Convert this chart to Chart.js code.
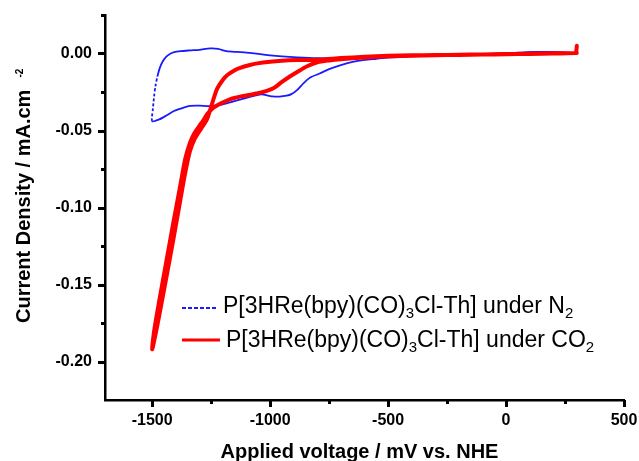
<!DOCTYPE html>
<html><head><meta charset="utf-8">
<script src="https://cdn.jsdelivr.net/npm/chart.js@4.4.0/dist/chart.umd.min.js"></script>
<style>html,body{margin:0;padding:0;background:#fff;}canvas{display:block;}</style>
</head><body>
<canvas id="c" width="639" height="461"></canvas>
<script>
// ---- tick values / labels ----
const xTickValues = [-1500, -1000, -500, 0, 500];
const xMinorValues = [-1250, -750, -250, 250];
const yTickValues = [0, -0.05, -0.10, -0.15, -0.20];
const yMinorValues = [0.025, -0.025, -0.075, -0.125, -0.175];
const xTitle = 'Applied voltage / mV vs. NHE';
const yTitle = 'Current Density / mA.cm';
const yTitleSup = '-2';
const seriesNames = ['P[3HRe(bpy)(CO)₃Cl-Th] under N₂', 'P[3HRe(bpy)(CO)₃Cl-Th] under CO₂'];

// ---- series: N2 (mV, mA/cm2) ----
const n2Voltage = [300,250,200,150,100,50,0,-100,-200,-300,-400,-500,-550,-600,-650,-700,-750,-790,-830,-860,-886,-910,-930,-960,-990,-1010,-1035,-1060,-1100,-1140,-1180,-1220,-1260,-1300,-1340,-1380,-1410,-1440,-1470,-1500,
  -1497,-1492,-1486,-1478,-1468,-1455,-1440,-1425,-1410,-1380,-1340,-1300,-1254,-1220,-1185,-1140,-1100,-1050,-1000,-950,-886,-800,-700,-600,-500,-400,-300,-200,-100,0,100,200,300];
const n2Current = [0.0003,0.0006,0.0009,0.0010,0.0009,0.0005,0.0000,-0.0005,-0.0009,-0.0013,-0.0018,-0.0026,-0.0034,-0.0042,-0.0055,-0.0076,-0.0102,-0.0130,-0.0156,-0.0195,-0.0238,-0.0264,-0.0274,-0.0280,-0.0279,-0.0273,-0.0266,-0.0272,-0.0288,-0.0305,-0.0322,-0.0336,-0.0342,-0.0338,-0.0340,-0.0358,-0.0375,-0.0403,-0.0428,-0.0440,
  -0.036,-0.028,-0.021,-0.015,-0.0095,-0.0050,-0.0020,-0.0003,0.0007,0.0015,0.0020,0.0024,0.0033,0.0030,0.0015,0.0010,0.0006,-0.0002,-0.0012,-0.0019,-0.0025,-0.0030,-0.0031,-0.0028,-0.0023,-0.0017,-0.0012,-0.0008,-0.0004,0.0001,0.0007,0.0008,0.0003];

// ---- series: CO2 (forward scan then return scan) ----
const co2Voltage = [300,297,290,200,100,0,-100,-200,-300,-400,-500,-600,-700,-750,-800,-843,-880,-915,-950,-980,-1000,-1030,-1060,-1090,-1127,-1160,-1190,-1220,-1245,-1265,-1284,-1300,-1320,-1340,-1360,-1380,-1410,-1440,-1470,-1490,-1500,
  -1490,-1470,-1440,-1410,-1380,-1360,-1340,-1320,-1300,-1285,-1267,-1245,-1225,-1200,-1180,-1150,-1127,-1090,-1055,-1000,-950,-886,-800,-700,-600,-500,-400,-300,-200,-100,0,100,200,300];
const co2Current = [0.0050,0.0010,0.0003,0.0000,-0.0003,-0.0005,-0.0007,-0.0009,-0.0011,-0.0014,-0.0018,-0.0026,-0.0037,-0.0045,-0.0057,-0.0083,-0.0115,-0.0148,-0.0185,-0.0220,-0.0235,-0.0250,-0.0260,-0.0270,-0.0280,-0.0292,-0.0310,-0.0333,-0.0358,-0.0390,-0.0435,-0.0470,-0.0515,-0.0580,-0.0685,-0.0850,-0.1095,-0.1350,-0.1605,-0.1785,-0.1920,
  -0.1855,-0.1700,-0.1455,-0.1205,-0.0945,-0.0775,-0.0635,-0.0555,-0.0505,-0.0470,-0.0425,-0.0320,-0.0230,-0.0170,-0.0138,-0.0108,-0.0093,-0.0076,-0.0064,-0.0053,-0.0047,-0.0043,-0.0040,-0.0030,-0.0021,-0.0015,-0.0012,-0.0010,-0.0008,-0.0006,-0.0004,-0.0001,0.0001,0.0003];

const FONT = '"Liberation Sans", Arial, Helvetica, sans-serif';
const toPts = (xs, ys) => xs.map((v, i) => ({x: v, y: ys[i]}));

function drawRich(ctx, parts, x, y, size, subSize, subDrop) {
  let cx = x;
  for (const p of parts) {
    ctx.font = (p.sub ? subSize : size) + 'px ' + FONT;
    ctx.fillText(p.t, cx, p.sub ? y + subDrop : y);
    cx += ctx.measureText(p.t).width;
  }
}

const decor = {
  id: 'decor',
  afterDraw(chart) {
    const ctx = chart.ctx;
    const a = chart.chartArea;
    const sx = chart.scales.x, sy = chart.scales.y;
    ctx.save();
    ctx.setLineDash([]);
    ctx.fillStyle = '#000000';
    // major + minor ticks (outward)
    xTickValues.forEach(v => { const px = sx.getPixelForValue(v); ctx.fillRect(Math.round(px) - 1, a.bottom, 3, 7); });
    xMinorValues.forEach(v => { const px = sx.getPixelForValue(v); ctx.fillRect(Math.round(px) - 1, a.bottom, 3, 4); });
    yTickValues.forEach(v => { const py = sy.getPixelForValue(v); ctx.fillRect(a.left - 7, Math.round(py) - 1, 7, 3); });
    yMinorValues.forEach(v => { const py = sy.getPixelForValue(v); ctx.fillRect(a.left - 4, Math.round(py) - 1, 4, 3); });
    // axis titles
    ctx.textBaseline = 'alphabetic';
    ctx.textAlign = 'center';
    ctx.font = 'bold 20px ' + FONT;
    ctx.fillText(xTitle, (a.left + a.right) / 2 - 5, 458);
    ctx.textAlign = 'left';
    ctx.save();
    ctx.translate(30, 323);
    ctx.rotate(-Math.PI / 2);
    ctx.font = 'bold 20px ' + FONT;
    ctx.fillText(yTitle, 0, 0);
    const w = ctx.measureText(yTitle).width;
    ctx.font = 'bold 10px ' + FONT;
    ctx.fillText(yTitleSup, w + 12, -7);
    ctx.restore();
    // legend
    ctx.strokeStyle = '#1a1aff'; ctx.lineWidth = 2; ctx.setLineDash([4, 2]);
    ctx.beginPath(); ctx.moveTo(182, 308); ctx.lineTo(218, 308); ctx.stroke();
    ctx.setLineDash([]);
    ctx.strokeStyle = '#ff0000'; ctx.lineWidth = 3;
    ctx.beginPath(); ctx.moveTo(182, 340); ctx.lineTo(220, 340); ctx.stroke();
    ctx.fillStyle = '#000';
    drawRich(ctx, [{t:'P[3HRe(bpy)(CO)'},{t:'3',sub:true},{t:'Cl-Th] under N'},{t:'2',sub:true}], 223, 313, 23, 15, 5);
    drawRich(ctx, [{t:'P[3HRe(bpy)(CO)'},{t:'3',sub:true},{t:'Cl-Th] under CO'},{t:'2',sub:true}], 226, 347, 23, 15, 5);
    ctx.restore();
  }
};

const axisCommon = {
  grid: {display: false, drawTicks: false},
  border: {display: true, color: '#000', width: 2.5},
};

// sparse, near-vertical stretches of the N2 trace show up dotted (short-dot style)
const steepDash = c => {
  const dy = Math.abs(c.p1.y - c.p0.y), dx = Math.abs(c.p1.x - c.p0.x);
  return (dy > 9 && dy > 3 * dx) ? [3, 2] : undefined;
};

new Chart(document.getElementById('c'), {
  type: 'scatter',
  data: {
    datasets: [
      {label: seriesNames[1], data: toPts(co2Voltage, co2Current), showLine: true, borderColor: '#ff0000', borderWidth: 4, pointRadius: 0, tension: 0.25, order: 0, borderJoinStyle: 'round', borderCapStyle: 'round'},
      {label: seriesNames[0], data: toPts(n2Voltage, n2Current), showLine: true, borderColor: '#1a1aff', borderWidth: 1.8, pointRadius: 0, tension: 0.25, order: 1, borderJoinStyle: 'round', segment: {borderDash: steepDash}}
    ]
  },
  options: {
    responsive: false, animation: false, devicePixelRatio: 1,
    layout: {padding: {top: 15, right: 15, left: 0, bottom: 0}},
    plugins: {legend: {display: false}, tooltip: {enabled: false}},
    scales: {
      x: {
        type: 'linear', position: 'bottom', min: -1700, max: 500,
        ...axisCommon,
        afterBuildTicks: s => { s.ticks = xTickValues.map(v => ({value: v})); },
        afterFit: s => { s.height = 61; s.paddingLeft = 0; s.paddingRight = 0; },
        ticks: {color: '#000', font: {family: FONT, size: 16, weight: 'bold'}, padding: 11, maxRotation: 0, autoSkip: false, callback: v => String(v)}
      },
      y: {
        type: 'linear', position: 'left', min: -0.225, max: 0.025,
        ...axisCommon,
        afterBuildTicks: s => { s.ticks = yTickValues.map(v => ({value: v})); },
        afterFit: s => { s.width = 105; s.paddingTop = 0; s.paddingBottom = 0; },
        ticks: {color: '#000', font: {family: FONT, size: 16, weight: 'bold'}, padding: 13, autoSkip: false, callback: v => Number(v).toFixed(2)}
      }
    }
  },
  plugins: [decor]
});
</script>
</body></html>
